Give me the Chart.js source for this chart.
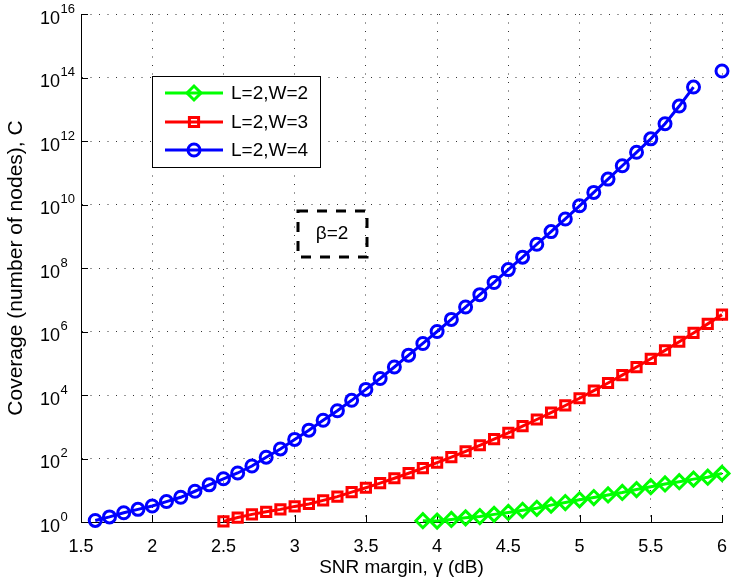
<!DOCTYPE html>
<html><head><meta charset="utf-8">
<script src="https://cdn.jsdelivr.net/npm/chart.js@4.4.0/dist/chart.umd.min.js"></script>
<style>html,body{margin:0;padding:0;background:#fff}#wrap{width:732px;height:583px}</style>
</head><body><div id="wrap"><canvas id="c" width="732" height="583"></canvas></div>
<script>
const seriesLabels = ['L=2,W=2', 'L=2,W=3', 'L=2,W=4'];
const gammaW2 = [3.9,4.0,4.1,4.2,4.3,4.4,4.5,4.6,4.7,4.8,4.9,5.0,5.1,5.2,5.3,5.4,5.5,5.6,5.7,5.8,5.9,6.0];
const coverageW2 = [1.1,1.07,1.2,1.35,1.48,1.74,2.0,2.34,2.7,3.4,4.1,5.0,5.9,7.1,8.5,10.5,12.9,15.8,18.6,22.4,25.7,33.9];
const gammaW3 = [2.5,2.6,2.7,2.8,2.9,3.0,3.1,3.2,3.3,3.4,3.5,3.6,3.7,3.8,3.9,4.0,4.1,4.2,4.3,4.4,4.5,4.6,4.7,4.8,4.9,5.0,5.1,5.2,5.3,5.4,5.5,5.6,5.7,5.8,5.9,6.0];
const coverageW3 = [1.05,1.38,1.74,2.09,2.5,3.1,3.7,4.8,6.3,8.7,12,16.8,23.9,34.4,50,74,111,169,261,407,646,1.04e3,1.69e3,2.79e3,4.68e3,7.9e3,1.37e4,2.39e4,4.23e4,7.6e4,1.38e5,2.55e5,4.76e5,9.0e5,1.74e6,3.4e6];
const gammaW4 = [1.6,1.7,1.8,1.9,2.0,2.1,2.2,2.3,2.4,2.5,2.6,2.7,2.8,2.9,3.0,3.1,3.2,3.3,3.4,3.5,3.6,3.7,3.8,3.9,4.0,4.1,4.2,4.3,4.4,4.5,4.6,4.7,4.8,4.9,5.0,5.1,5.2,5.3,5.4,5.5,5.6,5.7,5.8,5.9,6.0];
const coverageW4 = [1.12,1.45,1.95,2.5,3.2,4.4,6.0,9.3,14.8,23,35,58,110,200,400,780,1.6e3,3.2e3,6.8e3,1.5e4,3.3e4,7.6e4,1.8e5,4.2e5,1.0e6,2.4e6,5.9e6,1.45e7,3.5e7,8.9e7,2.2e8,5.6e8,1.4e9,3.5e9,9.1e9,2.4e10,6.3e10,1.66e11,4.4e11,1.17e12,3.5e12,1.26e13,5.0e13,null,1.6e14];
const xTicks = [1.5,2,2.5,3,3.5,4,4.5,5,5.5,6];
const yTickExponents = [0,2,4,6,8,10,12,14,16];
const annotationText = 'β=2';

const FONT = "'Liberation Sans', Arial, Helvetica, sans-serif";
const colors = ['#00ff00', '#ff0000', '#0000ff'];
const styles = ['rectRot', 'rect', 'circle'];
const radii = [7, 6.5, 6];

function pts(xs, ys) { return xs.map((x, i) => ({x: x, y: ys[i]})); }
const seriesData = [pts(gammaW2, coverageW2), pts(gammaW3, coverageW3), pts(gammaW4, coverageW4)];

const datasets = seriesData.map((d, i) => ({
  label: seriesLabels[i],
  data: d,
  borderColor: colors[i],
  backgroundColor: 'transparent',
  borderWidth: 3,
  pointStyle: styles[i],
  pointRadius: radii[i],
  pointBorderWidth: 3,
  pointBorderColor: colors[i],
  pointBackgroundColor: 'rgba(255,255,255,0)',
  tension: 0,
  spanGaps: false,
  clip: false
}));

const customPlugin = {
  id: 'custom',
  beforeDatasetsDraw(chart) {
    const ctx = chart.ctx, xs = chart.scales.x, ys = chart.scales.y, a = chart.chartArea;
    ctx.save();
    ctx.strokeStyle = '#000';
    ctx.lineWidth = 1;
    ctx.beginPath();
    xTicks.forEach(v => {
      const px = Math.round(xs.getPixelForValue(v)) + 0.5;
      ctx.moveTo(px, a.bottom); ctx.lineTo(px, a.bottom - 7);
    });
    yTickExponents.forEach(e => {
      const py = Math.round(ys.getPixelForValue(Math.pow(10, e))) + 0.5;
      ctx.moveTo(a.left, py); ctx.lineTo(a.left + 7, py);
    });
    ctx.stroke();
    ctx.restore();
  },
  afterDraw(chart) {
    const ctx = chart.ctx, ys = chart.scales.y;
    ctx.save();
    ctx.fillStyle = '#000';
    yTickExponents.forEach(e => {
      const py = ys.getPixelForValue(Math.pow(10, e));
      ctx.font = '18px ' + FONT;
      ctx.textAlign = 'right';
      ctx.textBaseline = 'middle';
      ctx.fillText('10', 60, py + 5);
      ctx.font = '13px ' + FONT;
      ctx.textAlign = 'left';
      ctx.fillText(String(e), 60.5, py - 5);
    });
    const lx = 152, ly = 76, lw = 168, lh = 91;
    ctx.fillStyle = '#fff';
    ctx.fillRect(lx, ly, lw, lh);
    ctx.strokeStyle = '#000';
    ctx.lineWidth = 1;
    ctx.strokeRect(lx + 0.5, ly + 0.5, lw, lh);
    const rowY = [93, 122, 150];
    chart.data.datasets.forEach((ds, i) => {
      const y = rowY[i];
      ctx.strokeStyle = ds.borderColor;
      ctx.lineWidth = 3;
      ctx.beginPath(); ctx.moveTo(165, y); ctx.lineTo(223, y); ctx.stroke();
      ctx.fillStyle = 'rgba(255,255,255,0)';
      Chart.helpers.drawPoint(ctx, {pointStyle: ds.pointStyle, radius: ds.pointRadius, borderWidth: 3}, 194, y);
      ctx.fillStyle = '#000';
      ctx.font = '19px ' + FONT;
      ctx.textAlign = 'left';
      ctx.textBaseline = 'middle';
      ctx.fillText(ds.label, 231, y + 1);
    });
    ctx.strokeStyle = '#000';
    ctx.lineWidth = 3;
    ctx.setLineDash([10, 9]);
    ctx.strokeRect(298, 211, 69, 46);
    ctx.setLineDash([]);
    ctx.fillStyle = '#000';
    ctx.font = '19px ' + FONT;
    ctx.textAlign = 'center';
    ctx.textBaseline = 'middle';
    ctx.fillText(annotationText, 332, 234);
    ctx.restore();
  }
};

new Chart(document.getElementById('c'), {
  type: 'line',
  data: { datasets: datasets },
  options: {
    responsive: false,
    animation: false,
    devicePixelRatio: 1,
    layout: { padding: { top: 14, right: 7, left: 0, bottom: 0 } },
    plugins: { legend: { display: false }, tooltip: { enabled: false } },
    scales: {
      x: {
        type: 'linear', min: 1.5, max: 6,
        afterBuildTicks: s => { s.ticks = xTicks.map(v => ({value: v})); },
        afterFit: s => { s.height = 61; s.paddingLeft = 0; s.paddingRight = 0; },
        ticks: { font: { size: 18, family: FONT }, color: '#000', padding: 14, maxRotation: 0, autoSkip: false,
                 callback: v => String(v) },
        grid: { color: '#333', lineWidth: 1, drawTicks: false },
        border: { display: true, color: '#000', width: 1, dash: [1, 7.5] },
        title: { display: true, text: 'SNR margin, γ (dB)', color: '#000', font: { size: 19, family: FONT }, padding: { top: 4, bottom: 4 } }
      },
      y: {
        type: 'logarithmic', min: 1, max: 1e16,
        afterBuildTicks: s => { s.ticks = yTickExponents.map(e => ({value: Math.pow(10, e)})); },
        afterFit: s => { s.width = 81; s.paddingTop = 0; s.paddingBottom = 0; },
        ticks: { display: false },
        grid: { color: '#333', lineWidth: 1, drawTicks: false },
        border: { display: true, color: '#000', width: 1, dash: [1, 7.5] },
        title: { display: true, text: 'Coverage (number of nodes), C', color: '#000', font: { size: 21, family: FONT }, padding: { top: 4, bottom: 4 } }
      }
    }
  },
  plugins: [customPlugin]
});
</script>
</body></html>
